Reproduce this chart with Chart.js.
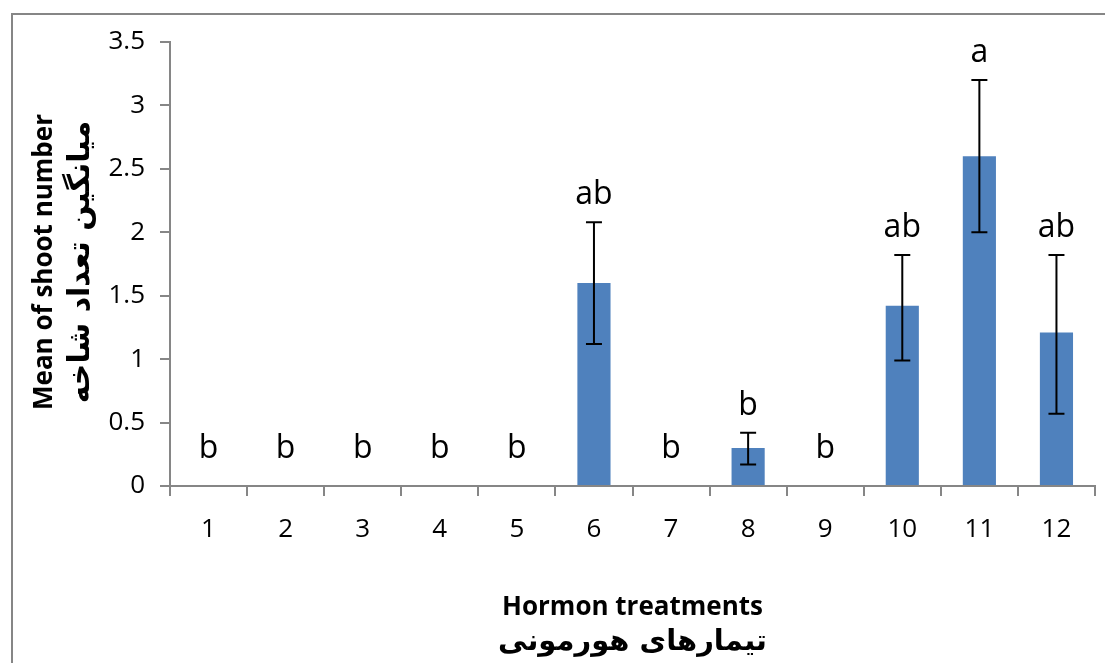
<!DOCTYPE html>
<html lang="en">
<head>
    <meta charset="UTF-8">
    <script src="https://cdn.jsdelivr.net/npm/chart.js@4/dist/chart.umd.min.js"></script>
    <title>Hormon treatments</title>
    <style>
        body { margin: 0; background: #fff; }
    </style>
</head>
<body>
    <canvas id="grafico1" width="1105" height="663"></canvas>
<script>
    // dati
    var treatments = ['1', '2', '3', '4', '5', '6', '7', '8', '9', '10', '11', '12'];
    var means = [0, 0, 0, 0, 0, 1.6, 0, 0.3, 0, 1.42, 2.6, 1.21];
    var errPlus = [0, 0, 0, 0, 0, 0.48, 0, 0.12, 0, 0.40, 0.60, 0.61];
    var errMinus = [0, 0, 0, 0, 0, 0.48, 0, 0.13, 0, 0.43, 0.60, 0.64];
    var letters = ['b', 'b', 'b', 'b', 'b', 'ab', 'b', 'b', 'b', 'ab', 'a', 'ab'];

    var yTitle = ['Mean of shoot number', 'میانگین تعداد شاخه'];
    var xTitle = ['Hormon treatments', 'تیمارهای هورمونی'];

    var axisGrey = '#868686';

    // cornice, barre di errore, lettere e titoli degli assi
    var extras = {
        id: 'extras',
        beforeDraw: function(chart) {
            var ctx = chart.ctx;
            ctx.save();
            ctx.fillStyle = '#fff';
            ctx.fillRect(0, 0, chart.width, chart.height);
            ctx.strokeStyle = axisGrey;
            ctx.lineWidth = 2;
            ctx.strokeRect(12, 14, chart.width + 40, chart.height + 40);
            ctx.restore();
        },
        afterDatasetsDraw: function(chart) {
            var ctx = chart.ctx;
            var y = chart.scales.y;
            var meta = chart.getDatasetMeta(0);
            ctx.save();
            ctx.strokeStyle = '#000';
            ctx.lineWidth = 2;
            meta.data.forEach(function(bar, i) {
                if (!errPlus[i] && !errMinus[i]) return;
                var top = y.getPixelForValue(means[i] + errPlus[i]);
                var bot = y.getPixelForValue(means[i] - errMinus[i]);
                ctx.beginPath();
                ctx.moveTo(bar.x, top); ctx.lineTo(bar.x, bot);
                ctx.moveTo(bar.x - 8, top); ctx.lineTo(bar.x + 8, top);
                ctx.moveTo(bar.x - 8, bot); ctx.lineTo(bar.x + 8, bot);
                ctx.stroke();
            });

            ctx.fillStyle = '#000';
            ctx.font = '32px "Open Sans"';
            ctx.textAlign = 'center';
            ctx.textBaseline = 'alphabetic';
            meta.data.forEach(function(bar, i) {
                var base = Math.min(y.getPixelForValue(means[i] + errPlus[i]) - 18, y.getPixelForValue(0) - 28);
                ctx.fillText(letters[i], bar.x, base);
            });
            ctx.restore();
        },
        afterDraw: function(chart) {
            var ctx = chart.ctx;
            var area = chart.chartArea;
            var cx = (area.left + area.right) / 2;
            ctx.save();
            ctx.fillStyle = '#000';
            ctx.textAlign = 'center';
            ctx.textBaseline = 'alphabetic';

            // titolo asse x
            ctx.font = 'bold 26px "Open Sans"';
            ctx.fillText(xTitle[0], cx, 615);
            ctx.font = 'bold 29px "DejaVu Sans"';
            ctx.fillText(xTitle[1], cx, 650);

            // titolo asse y (ruotato)
            ctx.translate(0, 262);
            ctx.rotate(-Math.PI / 2);
            ctx.font = 'bold 26px "Open Sans"';
            ctx.fillText(yTitle[0], 0, 52);
            ctx.font = 'bold 30px "DejaVu Sans"';
            ctx.fillText(yTitle[1], 0, 89);
            ctx.restore();
        }
    };

    var data = {
        labels: treatments,
        datasets: [{
            data: means,
            backgroundColor: '#4F81BD',
            borderWidth: 0,
            barPercentage: 0.43,
            categoryPercentage: 1
        }]
    };

    var options = {
        responsive: false,
        animation: false,
        layout: {
            padding: { left: 0, top: 42, right: 10, bottom: 0 }
        },
        plugins: {
            legend: { display: false },
            tooltip: { enabled: false }
        },
        scales: {
            x: {
                ticks: { color: '#000', font: { family: 'Open Sans', size: 26 }, padding: 18 },
                grid: { drawOnChartArea: false, tickLength: 10, color: axisGrey, lineWidth: 2, offset: true },
                border: { color: axisGrey, width: 2 },
                afterFit: function(s) { s.height = 177; }
            },
            y: {
                min: 0,
                max: 3.5,
                ticks: {
                    stepSize: 0.5,
                    color: '#000',
                    font: { family: 'Open Sans', size: 26 },
                    padding: 15,
                    callback: function(v) { return v; }
                },
                grid: { drawOnChartArea: false, tickLength: 10, color: axisGrey, lineWidth: 2 },
                border: { color: axisGrey, width: 2 },
                afterFit: function(s) { s.width = 170; }
            }
        }
    };

    var myChart = new Chart('grafico1', {
        type: 'bar',
        data: data,
        options: options,
        plugins: [extras]
    });
</script>
</body>
</html>
